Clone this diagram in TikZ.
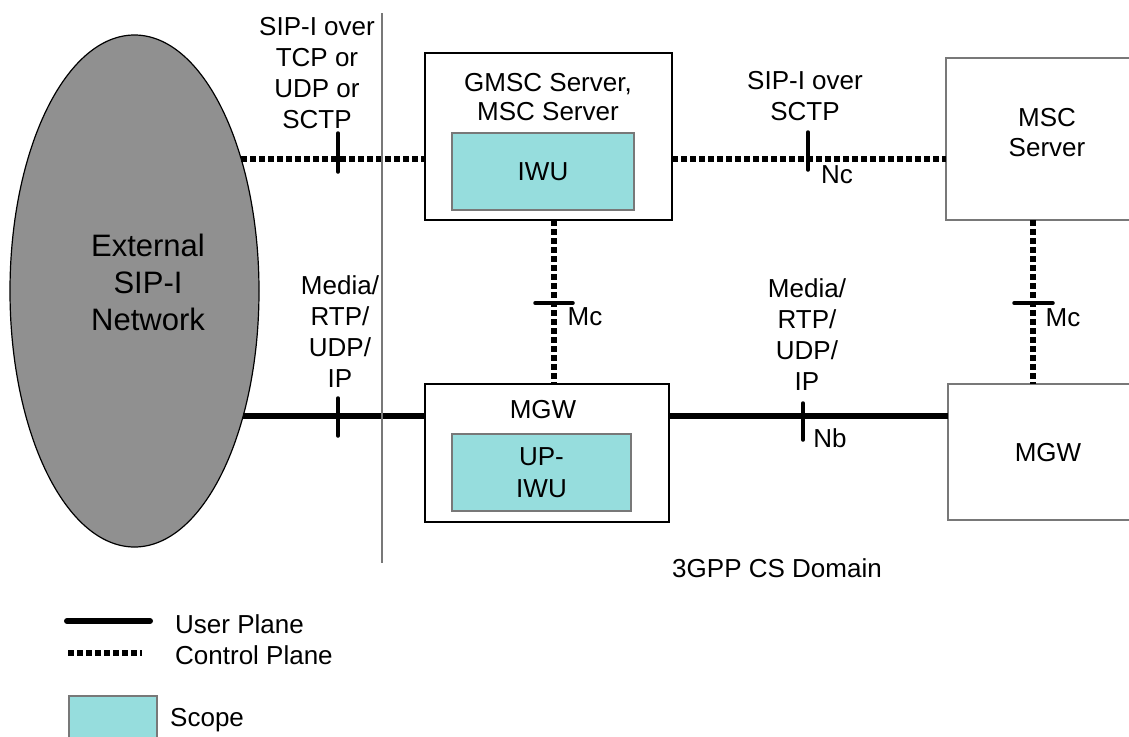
\documentclass[tikz,border=0pt]{standalone}
\usepackage{fontspec}
\setmainfont{Liberation Sans}
\usepackage{tikz}
\usetikzlibrary{shapes.geometric}
\definecolor{extgray}{RGB}{144,144,144}
\definecolor{scopecyan}{RGB}{150,221,221}
\definecolor{edgegray}{RGB}{120,120,120}
\tikzset{
  txt/.style={align=center, inner sep=0pt, font=\fontsize{26}{31}\selectfont},
  bigtxt/.style={align=center, inner sep=0pt, font=\fontsize{31}{37}\selectfont},
  nodebox/.style={draw=black, line width=2pt, outer sep=0pt, inner sep=0pt},
  farbox/.style={draw=edgegray, line width=1.5pt, outer sep=0pt, inner sep=0pt},
  scopebox/.style={fill=scopecyan, draw=edgegray, line width=1.5pt, outer sep=0pt,
    inner sep=0pt, align=center, font=\fontsize{26}{32}\selectfont},
  userplane/.style={line width=6pt},
  ctrlplane/.style={line width=5.5pt, dash pattern=on 5.5pt off 3.5pt},
  tickline/.style={line width=3.5pt, line cap=round},
}
\newcommand*{\TickMarks}[1]{% #1 = list of x1/y1/x2/y2
\foreach \xa/\ya/\xb/\yb in {#1} {
\draw [tickline] (\xa,\ya) -- (\xb,\yb);
}%
}

\begin{document}
\begin{tikzpicture}[x=1pt,y=-1pt]
    \useasboundingbox (0,0) rectangle (1129,736);

    % external network
    \node [ellipse, fill=extgray, draw=black, line width=1.2pt, outer sep=0pt,
           minimum width=249pt, minimum height=512pt] (ext) at (134.5,291) {};
    \node [bigtxt] (exttxt) at (148,282) {External\\SIP-I\\Network};

    % boxes
    \node [nodebox, minimum width=247pt, minimum height=167pt] (gmsc) at (548.5,136.5) {};
    \node [txt, font=\fontsize{26}{29}\selectfont] (gmsctxt) at (548,97.5) {GMSC Server,\\MSC Server};
    \node [scopebox, minimum width=182pt, minimum height=77pt] (iwu) at (543,171.5) {IWU};

    \node [nodebox, minimum width=244pt, minimum height=138pt] (mgw) at (547,453) {};
    \node [txt] (mgwtxt) at (543,410) {MGW};
    \node [scopebox, minimum width=179pt, minimum height=77pt] (upiwu) at (541.5,472.5) {UP-\\IWU};

    \node [farbox, minimum width=214pt, minimum height=162pt] (mscr) at (1053,139) {};
    \node [txt, font=\fontsize{26}{30}\selectfont] (mscrtxt) at (1047,133) {MSC\\Server};
    \node [farbox, minimum width=212pt, minimum height=136pt] (mgwr) at (1054,452) {};
    \node [txt] (mgwrtxt) at (1048,453) {MGW};

    % connectors
    \draw [ctrlplane] (ext.51.3) -- (ext.51.3 -| gmsc.west);
    \draw [ctrlplane] (ext.51.3 -| gmsc.east) -- (ext.51.3 -| mscr.west);
    \draw [userplane] (ext.-49) -- (ext.-49 -| mgw.west);
    \draw [userplane] (ext.-49 -| mgw.east) -- (ext.-49 -| mgwr.west);
    \draw [ctrlplane] ([xshift=5.5pt]gmsc.south) -- ([xshift=7pt]mgw.north);
    \draw [ctrlplane] ([xshift=-20pt]mscr.south) -- ([xshift=-21pt]mgwr.north);

    \TickMarks{338/133/338/172, 808/132/808/170, 338/398/338/436,
               803/403/803/440, 535/303/573/303, 1014/303/1053/303}

    % labels
    \node [txt] (sipext) at (317,73.5) {SIP-I over\\TCP or\\UDP or\\SCTP};
    \node [txt] (sipnc) at (805,96) {SIP-I over\\SCTP};
    \node [txt] (nc) at (837,175) {Nc};
    \node [txt] (mediaext) at (340,331.5) {Media/\\RTP/\\UDP/\\IP};
    \node [txt] (medianb) at (807,335) {Media/\\RTP/\\UDP/\\IP};
    \node [txt] (nb) at (830,438) {Nb};
    \node [txt] (mcmid) at (585,317) {Mc};
    \node [txt] (mcright) at (1063,318) {Mc};
    \node [txt] (domain) at (777,568) {3GPP CS Domain};

    % border of the domain
    \coordinate (bordertop) at (382,13);
    \coordinate (borderbot) at (382,563);
    \draw [edgegray, line width=1.5pt] (bordertop) -- (borderbot);

    % legend
    \coordinate (upA) at (67,621);
    \coordinate (upB) at (150,621);
    \coordinate (cpA) at (68,653);
    \coordinate (cpB) at (142,653);
    \draw [userplane, line cap=round] (upA) -- (upB);
    \draw [ctrlplane] (cpA) -- (cpB);
    \node [txt, anchor=west] (uptxt) at (175,624) {User Plane};
    \node [txt, anchor=west] (cptxt) at (175,655) {Control Plane};
    \node [scopebox, minimum width=88pt, minimum height=50pt] (scopekey) at (113,721) {};
    \node [txt, anchor=west] (scopetxt) at (170,720) {Scope};

\end{tikzpicture}
\end{document}
